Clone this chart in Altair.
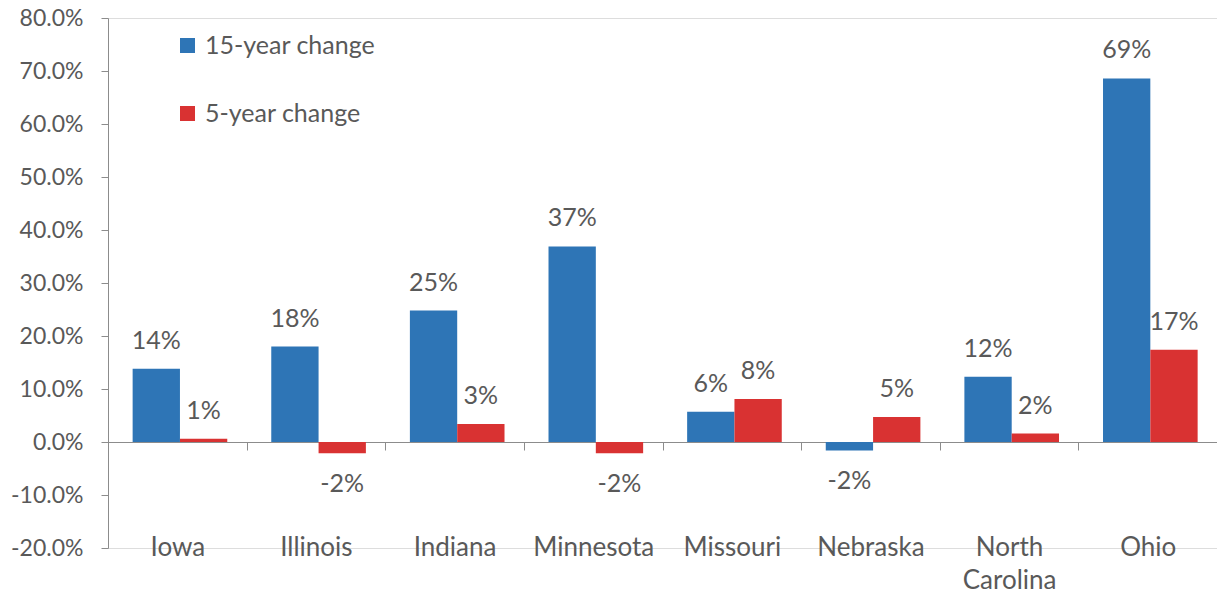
import altair as alt
import pandas as pd

states = ["Iowa", "Illinois", "Indiana", "Minnesota", "Missouri", "Nebraska", "North Carolina", "Ohio"]
change_15yr = [0.138, 0.180, 0.248, 0.369, 0.057, -0.016, 0.123, 0.686]
change_5yr = [0.006, -0.021, 0.034, -0.021, 0.081, 0.047, 0.016, 0.174]
series = ["15-year change", "5-year change"]
colors = ["#2E75B6", "#D93232"]
y_ticks = [-0.2, -0.1, 0.0, 0.1, 0.2, 0.3, 0.4, 0.5, 0.6, 0.7, 0.8]

rows = []
for i, s in enumerate(states):
    for name, vals in zip(series, [change_15yr, change_5yr]):
        v = vals[i]
        rows.append({"state": s, "series": name, "value": v,
                     "label": f"{round(v * 100):d}%"})
df = pd.DataFrame(rows)

FONT = "Lato"
GRAY = "#595959"
AXIS_GRAY = "#8C8C8C"
W, H = 1109, 530
zero_px = H * 0.8 / 1.0

x_enc = alt.X(
    "state:N", sort=states, title=None,
    scale=alt.Scale(paddingInner=0, paddingOuter=0),
    axis=alt.Axis(
        offset=-(H - zero_px), tickBand="extent", tickSize=8, tickColor=AXIS_GRAY,
        domainColor=AXIS_GRAY, labelAngle=0, labelFont=FONT, labelFontSize=26,
        labelColor=GRAY, labelPadding=84, labelLineHeight=33,
        labelExpr="split(datum.label, ' ')",
    ),
)
xo_enc = alt.XOffset("series:N", sort=series,
                     scale=alt.Scale(paddingInner=0, paddingOuter=0.465, align=0.56))
y_enc = alt.Y(
    "value:Q", title=None,
    scale=alt.Scale(domain=[-0.2, 0.8], nice=False, zero=False),
    axis=alt.Axis(
        values=y_ticks, grid=False, tickSize=7, tickColor=AXIS_GRAY, domainColor=AXIS_GRAY,
        labelFont=FONT, labelFontSize=23, labelColor=GRAY, labelPadding=18,
        labelExpr="(datum.value < 0 ? '-' : '') + format(abs(datum.value), '.1%')",
    ),
)

base = alt.Chart(df)

bars = base.mark_bar().encode(
    x=x_enc, xOffset=xo_enc, y=y_enc,
    color=alt.Color(
        "series:N",
        scale=alt.Scale(domain=series, range=colors),
        legend=alt.Legend(
            title=None, orient="none", legendX=67, legendY=15, direction="vertical",
            symbolType="square", symbolSize=225, symbolStrokeWidth=0,
            labelFont=FONT, labelFontSize=25, labelColor=GRAY, labelOffset=5,
            labelLimit=400, rowPadding=42, padding=0,
        ),
    ),
)

pos_labels = base.transform_filter("datum.value >= 0").mark_text(
    font=FONT, fontSize=25, color=GRAY, baseline="alphabetic", dy=-20
).encode(x=x_enc, xOffset=xo_enc, y=y_enc, text="label:N")

neg_labels = base.transform_filter("datum.value < 0").mark_text(
    font=FONT, fontSize=25, color=GRAY, baseline="alphabetic", dy=39
).encode(x=x_enc, xOffset=xo_enc, y=y_enc, text="label:N")

chart = alt.layer(bars, pos_labels, neg_labels).properties(
    width=W, height=H,
    autosize=alt.AutoSizeParams(type="none"),
    padding={"left": 100, "top": 10, "right": 0, "bottom": 46},
).configure_view(stroke=None).configure(background="white")

chart.save("out.html", embed_options={"renderer": "svg", "actions": False})
